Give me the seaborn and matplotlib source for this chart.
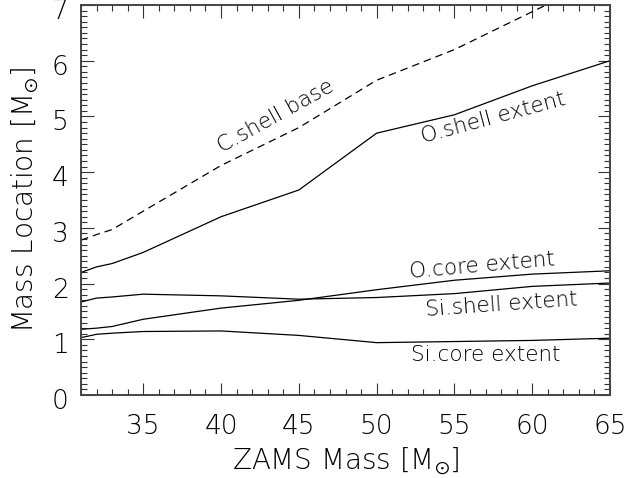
import matplotlib
matplotlib.use('Agg')
import matplotlib.pyplot as plt
from matplotlib.ticker import MultipleLocator
from matplotlib.transforms import ScaledTranslation
import seaborn as sns
import pandas as pd

# ZAMS masses of the models
zams = [31, 32, 33, 35, 40, 45, 50, 55, 60, 65]

# boundary locations in solar masses
c_shell_base = [2.78, 2.88, 2.97, 3.30, 4.12, 4.80, 5.65, 6.20, 6.88, 7.55]
o_shell_ext = [2.20, 2.30, 2.36, 2.56, 3.20, 3.68, 4.70, 5.03, 5.55, 6.00]
o_core_ext = [1.18, 1.20, 1.23, 1.36, 1.56, 1.70, 1.89, 2.06, 2.17, 2.23]
si_shell_ext = [1.67, 1.74, 1.76, 1.81, 1.78, 1.72, 1.75, 1.82, 1.95, 2.01]
si_core_ext = [1.03, 1.09, 1.11, 1.14, 1.15, 1.07, 0.94, 0.96, 0.98, 1.02]

df = pd.DataFrame({'zams': zams, 'c_shell': c_shell_base, 'o_shell': o_shell_ext,
                   'o_core': o_core_ext, 'si_shell': si_shell_ext, 'si_core': si_core_ext})

sns.set_style('ticks')
plt.rcParams['font.family'] = ['DejaVu Sans']
plt.rcParams['font.weight'] = 'light'
plt.rcParams['text.color'] = 'black'
plt.rcParams['axes.labelcolor'] = 'black'
plt.rcParams['xtick.color'] = 'black'
plt.rcParams['ytick.color'] = 'black'
plt.rcParams['mathtext.default'] = 'regular'

fig = plt.figure(figsize=(6.29, 4.78), dpi=100)
ax = fig.add_axes([0.1288, 0.1736, 0.841, 0.8159])

sns.lineplot(data=df, x='zams', y='c_shell', ax=ax, color='black', lw=0.9,
             linestyle=(0, (6, 4)))
for col in ['o_shell', 'o_core', 'si_shell', 'si_core']:
    sns.lineplot(data=df, x='zams', y=col, ax=ax, color='black', lw=0.9)

ax.set_xlim(31, 65)
ax.set_ylim(0, 7)
ax.xaxis.set_major_locator(MultipleLocator(5))
ax.xaxis.set_minor_locator(MultipleLocator(1))
ax.yaxis.set_major_locator(MultipleLocator(1))
ax.yaxis.set_minor_locator(MultipleLocator(0.1))
ax.tick_params(which='both', direction='in', top=True, right=True, labelsize=19, width=0.8,
               color='#333333')
ax.tick_params(which='major', length=9)
ax.tick_params(which='minor', length=4)
ax.tick_params(axis='x', which='major', pad=14)
ax.tick_params(axis='y', which='major', pad=9)
for s in ax.spines.values():
    s.set_linewidth(1.4)
    s.set_color('#444444')

# nudge y tick labels down a little, like the original
shift = ScaledTranslation(0, -4 / 100, fig.dpi_scale_trans)
for lab in ax.get_yticklabels():
    lab.set_transform(lab.get_transform() + shift)
    lab.set_fontweight('light')
for lab in ax.get_xticklabels():
    lab.set_fontweight('light')

ax.set_xlabel(r'ZAMS Mass [M$_{\odot}$]', fontsize=20, labelpad=4, fontweight='light')
ax.set_ylabel(r'Mass Location [M$_{\odot}$]', fontsize=20, labelpad=8, fontweight='light')

txt = dict(fontsize=15.5, ha='center', va='center', rotation_mode='anchor', fontweight='light')
ax.text(43.5, 5.0, 'C.shell base', rotation=29, **txt)
ax.text(57.5, 4.97, 'O.shell extent', rotation=15, **txt)
ax.text(56.8, 2.32, 'O.core extent', rotation=5, **txt)
ax.text(58.0, 1.63, 'Si.shell extent', rotation=4, **txt)
ax.text(57.0, 0.72, 'Si.core extent', rotation=0, **txt)

fig.savefig('out.png', dpi=100)
